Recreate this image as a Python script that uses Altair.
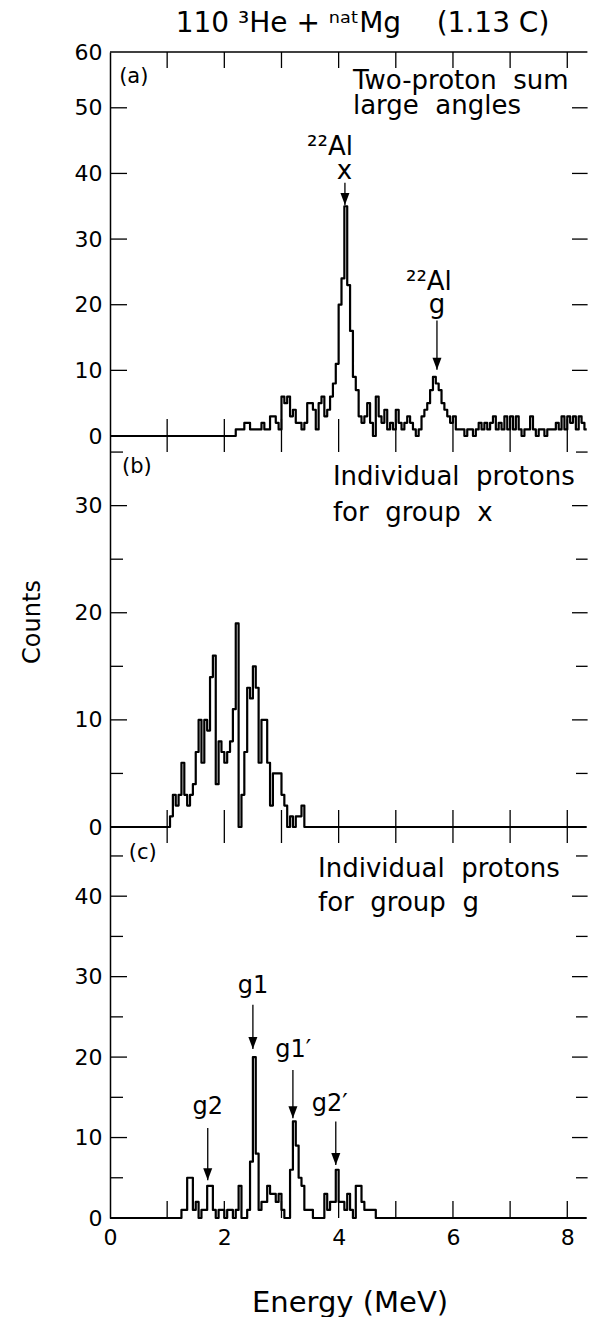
import altair as alt
import pandas as pd

FONT = "DejaVu Sans"
BIN = 0.05          # MeV per channel
E_MAX = 8.38
W = 479
H_A, H_B, H_C = 384, 391, 391
SP = " \u00a0"      # wide word gap

# ---------------- data (counts per 0.05 MeV channel) ----------------
a_start = 2.20
a_counts = [1, 1, 1, 2, 2, 1, 1, 1, 1, 2, 1, 1, 3, 3, 2, 1,
            6, 5, 6, 3, 4, 2, 2, 1, 2, 5, 5, 4, 1, 5, 6, 3, 4, 6, 8, 11,
            20, 24, 35, 23, 16, 9, 7, 3, 2, 3, 5, 2, 0, 6, 3, 2, 4, 1, 2, 1,
            4, 2, 1, 2, 3, 2, 1, 0, 1, 3, 4, 5, 7, 9, 8, 7, 5, 4, 3, 2,
            3, 1, 1, 1, 0, 1, 1, 0, 1, 2, 1, 2, 1, 2, 3, 1, 2, 1, 3, 1,
            3, 1, 3, 1, 0, 1, 1, 3, 1, 0, 1, 1, 0, 1, 1, 1, 2, 1, 3, 1,
            3, 2, 3, 1, 3, 2, 1]

b_start = 1.05
b_counts = [1, 3, 2, 3, 6, 3, 2, 3, 4, 7, 10, 6, 10, 9, 14, 16, 4, 8, 7, 6,
            7, 8, 11, 19, 0, 3, 7, 13, 12, 15, 13, 6, 10, 10, 6, 2, 5, 5, 5, 3,
            2, 0, 1, 0, 1, 1, 2]

c_start = 1.25
c_counts = [1, 1, 5, 5, 1, 2, 0, 1, 1, 4, 4, 1, 0, 1, 1, 0, 1, 1, 0, 1,
            4, 0, 0, 1, 7, 20, 8, 1, 2, 2, 4, 3, 3, 2, 3, 1, 0, 0, 6, 12,
            9, 5, 4, 1, 1, 1, 0, 0, 0, 0, 3, 1, 2, 2, 6, 2, 2, 1, 3, 1,
            0, 4, 4, 2, 1, 1, 1, 1]

x_tick_vals = [1, 2, 3, 4, 5, 6, 7, 8]
x_label_vals = [0, 2, 4, 6, 8]
A_TOP, B_TOP, C_TOP = 58.5, 36.5, 48.6   # top frame of panel (a) carries the "60" label
a_labels = [0, 10, 20, 30, 40, 50, A_TOP]
a_major = [10, 20, 30, 40, 50]
b_labels = [0, 10, 20, 30]
b_major = [10, 20, 30]
b_minor = [5, 15, 25, 35]
c_labels = [0, 10, 20, 30, 40]
c_major = [10, 20, 30, 40]
c_minor = [5, 15, 25, 35, 45]

# annotations: (text, energy, counts, align, size)
a_notes = [("(a)", 0.16, 53.8, "left", 21),
           ("Two-proton" + SP + "sum", 4.25, 52.9, "left", 26),
           ("large" + SP + "angles", 4.25, 49.0, "left", 26),
           ("\u00b2\u00b2Al", 4.25, 42.8, "right", 26),
           ("x", 4.10, 39.2, "center", 26),
           ("\u00b2\u00b2Al", 5.98, 22.3, "right", 26),
           ("g", 5.72, 18.7, "center", 26)]
a_arrows = [(4.11, 38.6, 35.2), (5.72, 17.6, 10.1)]

b_notes = [("(b)", 0.21, 33.05, "left", 21),
           ("Individual" + SP + "protons", 3.90, 31.9, "left", 26),
           ("for" + SP + "group" + SP + "x", 3.90, 28.6, "left", 26)]

c_notes = [("(c)", 0.33, 44.6, "left", 21),
           ("Individual" + SP + "protons", 3.64, 42.4, "left", 26),
           ("for" + SP + "group" + SP + "g", 3.64, 38.2, "left", 26),
           ("g1", 2.50, 28.0, "center", 24),
           ("g1\u2032", 2.89, 20.0, "left", 24),
           ("g2\u2032", 3.53, 13.3, "left", 24),
           ("g2", 1.71, 12.9, "center", 24)]
c_arrows = [(2.50, 26.5, 21.0), (3.20, 18.4, 12.4), (3.95, 12.0, 6.6), (1.71, 11.2, 4.7)]

ARROW = "M0,0L-0.75,-2L0.75,-2Z"
LINE_END = E_MAX - 0.04   # stop the trace just inside the right frame


def hist_frame(start, counts):
    es, ns = [0.0], [0]
    for i, c in enumerate(counts):
        e = round(start + i * BIN, 2)
        if e >= LINE_END:
            break
        es.append(e)
        ns.append(c)
    end = round(start + len(counts) * BIN, 2)
    if end < LINE_END:
        es += [end, LINE_END]
        ns += [0, 0]
    else:
        es.append(LINE_END)
        ns.append(ns[-1])
    return pd.DataFrame({"E": es, "N": ns})


def panel(df, top, h, label_vals, major, minor, notes, arrows, ytitle,
          bottom_axis=False, top_border=False, label_expr=None, title_y=None):
    xs = alt.Scale(domain=[0, E_MAX], nice=False, zero=False)
    ys = alt.Scale(domain=[0, top], nice=False, zero=False)
    if bottom_axis:
        xax = alt.Axis(values=x_label_vals, title="Energy (MeV)", format="d",
                       labelFlush=False, labelPadding=9, titlePadding=40,
                       titleFontSize=29, domain=False)
    else:
        xax = None
    ykw = dict(values=label_vals, title=ytitle, format="d",
               titlePadding=30, titleFontSize=24)
    if label_expr:
        ykw["labelExpr"] = label_expr
    if title_y is not None:
        ykw["titleY"] = title_y
    yax = alt.Axis(**ykw)
    layers = [alt.Chart(df).mark_line(interpolate="step-after", color="black",
                                      strokeWidth=2.2, strokeJoin="round").encode(
        x=alt.X("E:Q", scale=xs, axis=xax),
        y=alt.Y("N:Q", scale=ys, axis=yax))]

    def yrule(vals, x0, x1):
        return alt.Chart(pd.DataFrame({"v": vals})).mark_rule(
            color="black", strokeWidth=1.3).encode(
            y=alt.Y("v:Q", scale=ys, axis=None),
            x=alt.value(x0), x2=alt.value(x1))

    layers += [yrule(major, 0, 17), yrule(major, W - 17, W - 1.4)]
    if minor:
        layers += [yrule(minor, 0, 13), yrule(minor, W - 13, W - 1.4)]

    def xrule(y0, y1):
        return alt.Chart(pd.DataFrame({"t": x_tick_vals})).mark_rule(
            color="black", strokeWidth=1.3).encode(
            x=alt.X("t:Q", scale=xs, axis=None),
            y=alt.value(y0), y2=alt.value(y1))

    layers += [xrule(0, 16), xrule(h - 17, h)]
    if top_border:
        layers.append(yrule([top], 0, W - 1.6).mark_rule(color="black", strokeWidth=1.5))
    for txt, e, n, align, size in notes:
        layers.append(alt.Chart(pd.DataFrame({"E": [e], "N": [n], "t": [txt]})).mark_text(
            align=align, baseline="alphabetic", font=FONT, fontSize=size,
            color="black").encode(
            x=alt.X("E:Q", scale=xs, axis=None),
            y=alt.Y("N:Q", scale=ys, axis=None),
            text="t:N"))
    if arrows:
        adf = pd.DataFrame(arrows, columns=["E", "N1", "N2"])
        layers.append(alt.Chart(adf).mark_rule(color="black", strokeWidth=1.3).encode(
            x=alt.X("E:Q", scale=xs, axis=None),
            y=alt.Y("N1:Q", scale=ys, axis=None),
            y2="N2:Q"))
        layers.append(alt.Chart(adf).mark_point(
            shape=ARROW, filled=True, size=144, color="black", opacity=1).encode(
            x=alt.X("E:Q", scale=xs, axis=None),
            y=alt.Y("N2:Q", scale=ys, axis=None)))
    return alt.layer(*layers).resolve_axis(x="independent", y="independent").properties(
        width=W, height=h)


pa = panel(hist_frame(a_start, a_counts), A_TOP, H_A, a_labels, a_major, None,
           a_notes, a_arrows, " ", top_border=True,
           label_expr="datum.value > 55 ? '60' : datum.label")
pb = panel(hist_frame(b_start, b_counts), B_TOP, H_B, b_labels, b_major, b_minor,
           b_notes, None, "Counts", title_y=H_B / 2 - 10)
pc = panel(hist_frame(c_start, c_counts), C_TOP, H_C, c_labels, c_major, c_minor,
           c_notes, c_arrows, " ", bottom_axis=True)

chart = alt.vconcat(pa, pb, pc, spacing=0, bounds="flush").properties(
    title=alt.TitleParams("110 \u00b3He + \u207f\u1d43\u1d57Mg \u00a0 \u00a0(1.13 C)",
                          font=FONT, fontSize=28, fontWeight="normal",
                          color="black", anchor="middle", dx=58, offset=3),
    padding={"left": 20, "top": 10, "right": 0, "bottom": 0},
).configure_view(stroke=None).configure_axis(
    labelFont=FONT, labelFontSize=22, labelColor="black",
    titleFont=FONT, titleFontWeight="normal", titleColor="black",
    domainColor="black", domainWidth=1.5, ticks=False, tickSize=0,
    grid=False, labelPadding=8)

chart.save("out.html", embed_options={"renderer": "svg", "actions": False})
